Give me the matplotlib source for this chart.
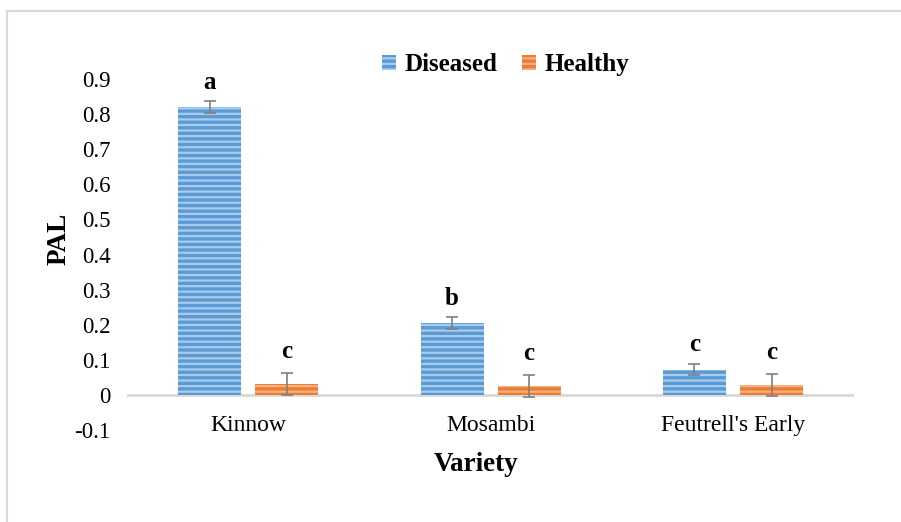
import numpy as np
import matplotlib.pyplot as plt
from matplotlib.lines import Line2D

plt.rcParams['font.family'] = ['Liberation Serif', 'DejaVu Serif']
plt.rcParams['hatch.linewidth'] = 1.6

varieties = ["Kinnow", "Mosambi", "Feutrell's Early"]
diseased = [0.820, 0.205, 0.072]
diseased_err = [0.016, 0.016, 0.016]
healthy = [0.031, 0.025, 0.028]
healthy_err = [0.032, 0.032, 0.032]
letters_diseased = ["a", "b", "c"]
letters_healthy = ["c", "c", "c"]
yticks = [-0.1, 0, 0.1, 0.2, 0.3, 0.4, 0.5, 0.6, 0.7, 0.8, 0.9]


def plot_pal_chart():
    fig = plt.figure(figsize=(9.01, 5.22), dpi=100)
    ax = fig.add_axes([0.141, 0.1762, 0.807, 0.6725])

    x = np.arange(len(varieties))
    w = 0.26
    off = 0.159

    ax.bar(x - off, diseased, w, color='#5b9bd5', edgecolor='#a9cbec',
           hatch='---', linewidth=0, label='Diseased', zorder=2)
    ax.bar(x + off, healthy, w, color='#ed7d31', edgecolor='#f5b183',
           hatch='---', linewidth=0, label='Healthy', zorder=2)
    ax.errorbar(x - off, diseased, yerr=diseased_err, fmt='none',
                ecolor='#808080', capsize=4, elinewidth=1.2, capthick=1.2, zorder=3)
    ax.errorbar(x + off, healthy, yerr=healthy_err, fmt='none',
                ecolor='#808080', capsize=4, elinewidth=1.2, capthick=1.2, zorder=3)

    # significance letters
    for i in range(len(varieties)):
        ax.text(x[i] - off, diseased[i] + diseased_err[i] + 0.055, letters_diseased[i],
                ha='center', va='center', fontsize=18, fontweight='bold')
        ax.text(x[i] + off, healthy[i] + healthy_err[i] + 0.06, letters_healthy[i],
                ha='center', va='center', fontsize=18, fontweight='bold')

    ax.axhline(0, color='#d9d9d9', linewidth=2, zorder=1)
    ax.set_xlim(-0.5, len(varieties) - 0.5)
    ax.set_ylim(-0.1, 0.9)
    ax.set_yticks(yticks)
    ax.set_yticklabels(["-0.1", "0", "0.1", "0.2", "0.3", "0.4", "0.5",
                        "0.6", "0.7", "0.8", "0.9"])
    ax.set_xticks(x)
    ax.set_xticklabels(varieties)
    ax.tick_params(axis='y', length=0, labelsize=16.5, pad=12)
    ax.tick_params(axis='x', length=0, labelsize=17, pad=-11)
    for s in ax.spines.values():
        s.set_visible(False)

    # Excel places the axis titles slightly off-centre
    ax.set_ylabel("PAL", fontsize=19.5, fontweight='bold')
    ax.yaxis.set_label_coords(-0.076, 0.544)
    ax.set_xlabel("Variety", fontsize=19.5, fontweight='bold')
    ax.xaxis.set_label_coords(0.48, -0.063)

    handles = [
        plt.Rectangle((0, 0), 1, 1, facecolor='#5b9bd5', edgecolor='#a9cbec', hatch='---', linewidth=0),
        plt.Rectangle((0, 0), 1, 1, facecolor='#ed7d31', edgecolor='#f5b183', hatch='---', linewidth=0),
    ]
    ax.legend(handles, ['Diseased', 'Healthy'], loc='center', bbox_to_anchor=(0.521, 1.04),
              ncol=2, frameon=False, prop={'weight': 'bold', 'size': 18},
              handlelength=0.55, handleheight=0.55, handletextpad=0.35, columnspacing=1.0)

    # chart border (top and left visible)
    fig.add_artist(Line2D([0.008, 1.0], [0.979, 0.979], color='#d9d9d9', linewidth=1.5))
    fig.add_artist(Line2D([0.008, 0.008], [0.0, 0.979], color='#d9d9d9', linewidth=1.5))

    fig.savefig("out.png", dpi=100)


if __name__ == "__main__":
    plot_pal_chart()
